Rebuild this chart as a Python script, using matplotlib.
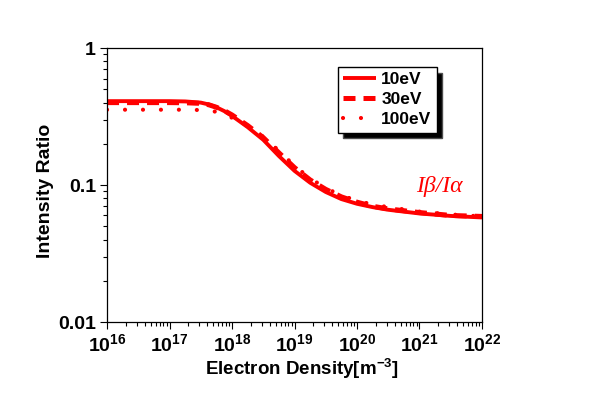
import numpy as np
import matplotlib
matplotlib.use("Agg")
import matplotlib.pyplot as plt
from matplotlib.ticker import LogLocator, FuncFormatter, NullFormatter

plt.rcParams['font.family'] = ['Liberation Sans', 'DejaVu Sans']
plt.rcParams['font.weight'] = 'bold'
plt.rcParams['mathtext.fontset'] = 'custom'
plt.rcParams['mathtext.rm'] = 'Liberation Sans:bold'
plt.rcParams['mathtext.default'] = 'rm'

# electron density exponents (log10 of m^-3)
density_exp = [16, 16.5, 17, 17.25, 17.5, 17.625, 17.75, 17.875, 18, 18.25, 18.5,
               18.75, 19, 19.25, 19.5, 19.75, 20, 20.25, 20.5, 21, 21.5, 22]
ratio_10ev = [0.41, 0.41, 0.41, 0.408, 0.40, 0.388, 0.37, 0.347, 0.32, 0.265, 0.214,
              0.163, 0.127, 0.104, 0.089, 0.079, 0.073, 0.069, 0.066, 0.062, 0.0595, 0.058]
ratio_30ev = [0.40, 0.40, 0.40, 0.399, 0.395, 0.386, 0.37, 0.35, 0.325, 0.272, 0.222,
              0.172, 0.134, 0.109, 0.093, 0.082, 0.075, 0.070, 0.067, 0.063, 0.060, 0.059]
ratio_100ev = [0.355, 0.355, 0.355, 0.355, 0.353, 0.349, 0.343, 0.33, 0.31, 0.27, 0.225,
               0.178, 0.138, 0.112, 0.095, 0.084, 0.077, 0.072, 0.069, 0.064, 0.061, 0.059]

density = 10.0 ** np.array(density_exp)

fig = plt.figure(figsize=(5.98, 4.01), dpi=100)
ax = fig.add_axes([0.179, 0.197, 0.627, 0.683])

red = '#ff0000'
ax.plot(density, ratio_10ev, color=red, lw=2.8, solid_capstyle='butt', label='10eV')
ax.plot(density, ratio_30ev, color=red, lw=3.6, linestyle=(0, (2.4, 1.6)),
        dash_capstyle='butt', label='30eV')
ax.plot(density, ratio_100ev, color=red, lw=3.0, linestyle=(0, (0.01, 4.3)),
        dash_capstyle='round', label='100eV')

ax.set_xscale('log')
ax.set_yscale('log')
ax.set_xlim(1e16, 1e22)
ax.set_ylim(0.01, 1)

ax.xaxis.set_major_locator(LogLocator(base=10, numticks=10))
ax.xaxis.set_minor_locator(LogLocator(base=10, subs=np.arange(2, 10), numticks=100))
ax.yaxis.set_minor_locator(LogLocator(base=10, subs=np.arange(2, 10), numticks=100))
ax.xaxis.set_major_formatter(FuncFormatter(lambda v, p: r'$10^{%d}$' % round(np.log10(v))))
ax.yaxis.set_major_formatter(FuncFormatter(lambda v, p: '%g' % v))
ax.xaxis.set_minor_formatter(NullFormatter())
ax.yaxis.set_minor_formatter(NullFormatter())

ax.tick_params(which='both', direction='out', top=False, right=False,
               labelsize=14, width=0.8, color='black')
ax.tick_params(which='major', length=5, pad=3)
ax.tick_params(which='minor', length=3)
for s in ax.spines.values():
    s.set_linewidth(0.9)

ax.set_xlabel(r'Electron Density[m$^{-3}$]', fontsize=13.5, fontweight='bold', labelpad=1)
ax.xaxis.label.set_x(0.52)
ax.set_ylabel('Intensity Ratio', fontsize=14, fontweight='bold', labelpad=3)
ax.yaxis.label.set_y(0.48)

ax.text(0.885, 0.496, 'Iβ/Iα', transform=ax.transAxes, color=red, fontsize=17,
        family='Liberation Serif', style='italic', fontweight='normal',
        ha='center', va='center')

leg = ax.legend(loc='upper left', bbox_to_anchor=(0.565, 0.833),
                bbox_transform=fig.transFigure, fancybox=False,
                shadow={'ox': 4, 'oy': -4, 'facecolor': 'black', 'alpha': 1},
                edgecolor='black', fontsize=12.5, handlelength=1.9,
                borderaxespad=0, borderpad=0.3, labelspacing=0.28, handletextpad=0.3,
                framealpha=1)
leg.get_frame().set_linewidth(1.0)

fig.savefig('out.png', dpi=100)
